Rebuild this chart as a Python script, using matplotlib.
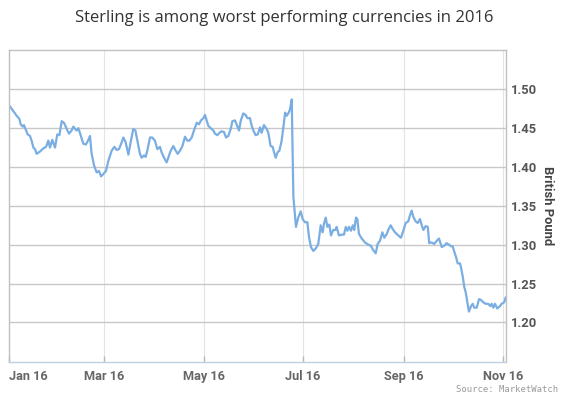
import pandas as pd
import matplotlib
matplotlib.use('Agg')
import matplotlib.pyplot as plt
import matplotlib.dates as mdates

plt.rcParams['font.family'] = ['Roboto', 'DejaVu Sans']

# GBP/USD 2016 (days since 1 Jan 2016)
days = [2.0, 4.1, 6.1, 7.8, 8.6, 9.8, 10.6, 11.9, 12.9, 14.3, 15.3, 16.4, 17.4, 18.4,
        20.5, 22.5, 24.2, 25.6, 26.6, 28.0, 29.7, 31.1, 32.4, 33.8, 35.2, 36.9, 38.3,
        39.9, 41.0, 42.0, 43.0, 44.0, 45.0, 47.1, 48.7, 50.2, 51.2, 52.2, 53.7, 55.3,
        56.7, 58.0, 59.4, 61.0, 62.5, 64.5, 66.2, 67.6, 69.0, 70.2, 71.7, 73.1, 74.8,
        76.2, 77.8, 79.1, 80.3, 81.9, 83.0, 84.4, 85.4, 86.4, 88.1, 89.5, 91.1, 92.6,
        94.2, 95.2, 96.7, 98.3, 99.3, 100.8, 102.4, 103.9, 105.1, 106.5, 108.0, 109.6,
        111.0, 112.3, 113.7, 115.1, 116.8, 118.2, 119.4, 120.9, 121.9, 122.9, 123.9,
        125.4, 127.0, 128.0, 129.5, 130.7, 132.1, 133.6, 134.8, 136.2, 137.7, 138.7,
        140.3, 141.8, 142.8, 143.8, 145.4, 146.9, 147.9, 149.5, 150.6, 151.6, 153.0,
        154.3, 155.7, 156.7, 158.1, 159.8, 160.8, 162.2, 163.5, 164.3, 165.3, 166.5,
        167.6, 169.0, 170.4, 171.1, 172.1, 173.1, 174.1, 175.2, 176.2, 177.8, 179.2,
        180.7, 181.9, 183.3, 184.8, 185.8, 187.0, 188.5, 189.9, 191.5, 193.0, 194.2,
        195.0, 196.1, 197.1, 198.3, 199.3, 200.7, 202.0, 202.8, 204.2, 205.9, 207.3,
        208.4, 209.4, 210.4, 211.6, 212.7, 213.6, 214.7, 215.5, 216.5, 218.2, 220.2,
        222.3, 223.7, 225.3, 226.8, 228.0, 229.4, 230.9, 232.1, 233.6, 234.5, 236.0,
        237.6, 239.1, 240.7, 242.3, 243.8, 245.2, 246.8, 247.9, 248.9, 249.9, 251.4,
        252.6, 254.0, 255.1, 256.1, 257.5, 258.8, 259.7, 261.2, 262.8, 264.3, 265.7,
        267.4, 269.0, 270.4, 271.9, 273.1, 274.1, 275.1, 276.2, 277.2, 278.6, 279.2,
        280.3, 281.3, 282.1, 282.9, 284.1, 285.4, 286.4, 287.4, 288.9, 290.3, 291.5,
        292.9, 294.4, 296.0, 297.2, 298.1, 299.1, 300.1, 301.5, 303.2, 304.2, 305.8,
        306.7]
gbp = [1.478, 1.472, 1.466, 1.462, 1.455, 1.452, 1.454, 1.447, 1.442, 1.440, 1.434,
       1.425, 1.423, 1.417, 1.420, 1.424, 1.426, 1.434, 1.425, 1.435, 1.425, 1.442,
       1.441, 1.459, 1.457, 1.449, 1.443, 1.447, 1.452, 1.449, 1.447, 1.450, 1.444,
       1.430, 1.429, 1.435, 1.440, 1.417, 1.402, 1.393, 1.395, 1.388, 1.391, 1.395,
       1.408, 1.421, 1.426, 1.422, 1.423, 1.429, 1.438, 1.432, 1.416, 1.432, 1.449,
       1.447, 1.434, 1.417, 1.412, 1.415, 1.413, 1.421, 1.438, 1.438, 1.434, 1.423,
       1.426, 1.419, 1.412, 1.406, 1.412, 1.421, 1.427, 1.421, 1.417, 1.421, 1.427,
       1.439, 1.434, 1.434, 1.438, 1.447, 1.457, 1.455, 1.460, 1.463, 1.467, 1.460,
       1.453, 1.450, 1.447, 1.443, 1.441, 1.444, 1.446, 1.445, 1.438, 1.440, 1.449,
       1.459, 1.460, 1.452, 1.447, 1.459, 1.469, 1.467, 1.463, 1.463, 1.453, 1.447,
       1.441, 1.442, 1.451, 1.444, 1.454, 1.449, 1.444, 1.427, 1.426, 1.419, 1.412,
       1.419, 1.421, 1.434, 1.457, 1.470, 1.466, 1.469, 1.474, 1.487, 1.362, 1.323,
       1.335, 1.343, 1.333, 1.329, 1.329, 1.310, 1.297, 1.292, 1.295, 1.301, 1.325,
       1.316, 1.327, 1.335, 1.323, 1.326, 1.312, 1.319, 1.319, 1.323, 1.312, 1.313,
       1.313, 1.323, 1.318, 1.323, 1.318, 1.325, 1.319, 1.335, 1.333, 1.314, 1.308,
       1.303, 1.300, 1.299, 1.293, 1.289, 1.301, 1.305, 1.316, 1.309, 1.314, 1.319,
       1.325, 1.319, 1.315, 1.312, 1.309, 1.318, 1.328, 1.330, 1.338, 1.344, 1.336,
       1.330, 1.328, 1.333, 1.325, 1.319, 1.324, 1.323, 1.302, 1.303, 1.301, 1.305,
       1.308, 1.297, 1.299, 1.302, 1.300, 1.298, 1.298, 1.291, 1.284, 1.276, 1.276,
       1.271, 1.259, 1.245, 1.239, 1.229, 1.214, 1.221, 1.224, 1.219, 1.219, 1.230,
       1.229, 1.226, 1.224, 1.224, 1.221, 1.224, 1.219, 1.224, 1.218, 1.221, 1.224,
       1.226, 1.232]

tick_labels = ['Jan 16', 'Mar 16', 'May 16', 'Jul 16', 'Sep 16', 'Nov 16']
y_ticks = [1.20, 1.25, 1.30, 1.35, 1.40, 1.45, 1.50]

start = pd.Timestamp('2016-01-01')
dates = start + pd.to_timedelta(days, unit='D')

fig = plt.figure(figsize=(5.69, 3.98), dpi=100)
ax = fig.add_axes([9.3 / 569, 36.3 / 398, 496.4 / 569, 312 / 398])

ax.plot(dates, gbp, color='#7aaee2', linewidth=1.6, solid_joinstyle='round')

x_left = start + pd.Timedelta(days=1.6)
x_right = start + pd.Timedelta(days=306.7)
ax.set_xlim(x_left, x_right)
ax.set_ylim(1.1495, 1.551)

xticks = [x_left] + [pd.Timestamp(d) for d in
                     ['2016-03-01', '2016-05-01', '2016-07-01', '2016-09-01', '2016-11-01']]
ax.set_xticks(xticks)
ax.set_xticklabels(tick_labels)
ax.get_xticklabels()[0].set_horizontalalignment('left')
ax.tick_params(axis='x', direction='in', length=4.5, width=1, color='#b0b8c4',
               labelsize=9.2, labelcolor='#666666', pad=6)
for lab in ax.get_xticklabels():
    lab.set_fontweight('bold')

ax.yaxis.tick_right()
ax.set_yticks(y_ticks)
ax.set_yticklabels([f'{v:.2f}' for v in y_ticks])
ax.tick_params(axis='y', length=0, labelsize=9.4, labelcolor='#555555', pad=4)
for lab in ax.get_yticklabels():
    lab.set_fontweight('bold')

ax.grid(axis='y', color='#c8c8c8', linewidth=1)
ax.grid(axis='x', color='#e4e4e4', linewidth=0.8)
ax.set_axisbelow(True)

for side in ['left', 'top', 'right']:
    ax.spines[side].set_color('#c0c0c0')
    ax.spines[side].set_linewidth(1)
ax.spines['bottom'].set_color('#c0d0e0')
ax.spines['bottom'].set_linewidth(1)

fig.text(548 / 569, 1 - 205.5 / 398, 'British Pound', rotation=270, ha='center',
         va='center', fontsize=9.4, fontweight='bold', color='#444444')
fig.text(284.7 / 569, 1 - 18 / 398, 'Sterling is among worst performing currencies in 2016',
         ha='center', va='center', fontsize=12.0, family='Open Sans', color='#333333')
fig.text(557.7 / 569, 1 - 389.3 / 398, 'Source: MarketWatch', ha='right', va='center',
         fontsize=6.4, family='DejaVu Sans Mono', color='#999999')

fig.savefig('out.png', dpi=100)
